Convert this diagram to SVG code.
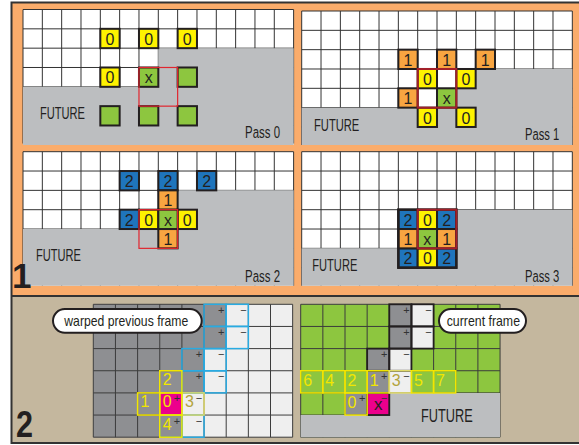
<svg xmlns="http://www.w3.org/2000/svg" xmlns:xlink="http://www.w3.org/1999/xlink" width="579" height="445" viewBox="0 0 579 445">
<style>
.fut{fill:#bcbec0}
.cy{fill:#fef200;stroke:#231f20;stroke-width:2}
.co{fill:#f8a541;stroke:#231f20;stroke-width:2}
.cb{fill:#1f75bc;stroke:#231f20;stroke-width:2}
.cg{fill:#8dc63f;stroke:#231f20;stroke-width:2}
.grid{fill:none;stroke:#333;stroke-width:1}
.bgrid{fill:none;stroke:#3c3c3c;stroke-width:1}
.t{font-family:"Liberation Sans",Arial,sans-serif;fill:#231f20}
.d{font-size:16px;text-anchor:middle}
.lbl{font-size:16.8px}
.redA{fill:none;stroke:#e0262f;stroke-width:1.2}
.redB{fill:none;stroke:#a3202a;stroke-width:2}
.blu{fill:none;stroke:#29abe2;stroke-width:1.5}
.yel{fill:none;stroke:#f2e600;stroke-width:1.5}
.yelp{fill:none;stroke:#e2dc6a;stroke-width:1.5}
.blk{fill:none;stroke:#231f20;stroke-width:1.8}
.dk{fill:#8e8f92}
.lt{fill:#efefef}
.mg{fill:#ec008c}
.yd{font-family:"Liberation Sans",Arial,sans-serif;font-size:16px;fill:#f2e600}
.od{font-family:"Liberation Sans",Arial,sans-serif;font-size:16px;fill:#b3a43c}
.sg{font-family:"Liberation Sans",Arial,sans-serif;font-size:11px;fill:#333;text-anchor:middle}
.pill{fill:#fff;stroke:#231f20;stroke-width:2}
.big{font-family:"Liberation Sans",Arial,sans-serif;font-weight:bold;fill:#231f20}
</style>
<defs>
<path id="tgrid" class="grid" d="M0 0H270.62M0 19.33H270.62M0 38.66H270.62M0 57.99H270.62M0 77.32H270.62M0 96.65H270.62M0 115.98H270.62M0 0V134M19.33 0V134M38.66 0V134M57.99 0V134M77.32 0V134M96.65 0V134M115.98 0V134M135.31 0V134M154.64 0V134M173.97 0V134M193.3 0V134M212.63 0V134M231.96 0V134M251.29 0V134M270.62 0V134"/>
<path id="bgrid" class="bgrid" d="M0 0H199.35M0 22.15H199.35M0 44.3H199.35M0 66.45H199.35M0 88.6H199.35M0 110.75H199.35M0 132.9H199.35M0 0V132.9M22.15 0V132.9M44.3 0V132.9M66.45 0V132.9M88.6 0V132.9M110.75 0V132.9M132.9 0V132.9M155.05 0V132.9M177.2 0V132.9M199.35 0V132.9"/>
</defs>

<rect width="579" height="445" fill="#fff"/>
<g id="frame">
<rect x="11" y="2.5" width="568" height="293.5" fill="#faac6b"/>
<rect x="11" y="296" width="568" height="147" fill="#c4b79e"/>
<path d="M11 2.5H579M11.5 1.5V444M11 296H579M11 443H579" fill="none" stroke="#333" stroke-width="2"/>
</g>

<g id="pass0" transform="translate(23,9.5)">
<rect width="270.62" height="135.5" fill="#fff"/>
<use xlink:href="#tgrid"/>
<polygon class="fut" points="135.31,38.66 270.62,38.66 270.62,135.5 0,135.5 0,77.32 115.98,77.32 115.98,57.99 135.31,57.99"/>
<rect class="cy" x="77.32" y="19.33" width="19.33" height="19.33"/><text class="t d" x="86.99" y="35.33">0</text>
<rect class="cy" x="115.98" y="19.33" width="19.33" height="19.33"/><text class="t d" x="125.65" y="35.33">0</text>
<rect class="cy" x="154.64" y="19.33" width="19.33" height="19.33"/><text class="t d" x="164.31" y="35.33">0</text>
<rect class="cy" x="77.32" y="57.99" width="19.33" height="19.33"/><text class="t d" x="86.99" y="73.99">0</text>
<rect class="cg" x="115.98" y="57.99" width="19.33" height="19.33"/><text class="t d" x="125.65" y="73.99">x</text>
<rect class="cg" x="154.64" y="57.99" width="19.33" height="19.33"/>
<rect class="cg" x="77.32" y="96.65" width="19.33" height="19.33"/>
<rect class="cg" x="115.98" y="96.65" width="19.33" height="19.33"/>
<rect class="cg" x="154.64" y="96.65" width="19.33" height="19.33"/>
<rect class="redA" x="115.98" y="57.99" width="38.66" height="38.66"/>
<text class="t lbl" x="17" y="109.8" textLength="45" lengthAdjust="spacingAndGlyphs">FUTURE</text>
<text class="t lbl" x="222" y="128.8" textLength="35" lengthAdjust="spacingAndGlyphs">Pass 0</text>
</g>

<g id="pass1" transform="translate(301.7,11)">
<rect width="270.62" height="134" fill="#fff"/>
<use xlink:href="#tgrid"/>
<polygon class="fut" points="173.97,57.99 270.62,57.99 270.62,134 0,134 0,96.65 154.64,96.65 154.64,77.32 173.97,77.32"/>
<rect class="co" x="96.65" y="38.66" width="19.33" height="19.33"/><text class="t d" x="106.32" y="54.66">1</text>
<rect class="co" x="135.31" y="38.66" width="19.33" height="19.33"/><text class="t d" x="144.98" y="54.66">1</text>
<rect class="co" x="173.97" y="38.66" width="19.33" height="19.33"/><text class="t d" x="183.64" y="54.66">1</text>
<rect class="co" x="96.65" y="77.32" width="19.33" height="19.33"/><text class="t d" x="106.32" y="93.32">1</text>
<rect class="cy" x="115.98" y="57.99" width="19.33" height="19.33"/><text class="t d" x="125.65" y="73.99">0</text>
<rect class="cy" x="154.64" y="57.99" width="19.33" height="19.33"/><text class="t d" x="164.31" y="73.99">0</text>
<rect class="cy" x="115.98" y="96.65" width="19.33" height="19.33"/><text class="t d" x="125.65" y="112.65">0</text>
<rect class="cy" x="154.64" y="96.65" width="19.33" height="19.33"/><text class="t d" x="164.31" y="112.65">0</text>
<rect class="cg" x="135.31" y="77.32" width="19.33" height="19.33"/><text class="t d" x="144.98" y="93.32">x</text>
<rect class="redB" x="115.98" y="57.99" width="38.66" height="38.66"/>
<text class="t lbl" x="12.3" y="119.7" textLength="45.3" lengthAdjust="spacingAndGlyphs">FUTURE</text>
<text class="t lbl" x="223.3" y="129" textLength="34.3" lengthAdjust="spacingAndGlyphs">Pass 1</text>
</g>

<g id="pass2" transform="translate(23,151.7)">
<rect width="270.62" height="134" fill="#fff"/>
<use xlink:href="#tgrid"/>
<polygon class="fut" points="135.31,38.66 270.62,38.66 270.62,134 0,134 0,77.32 96.65,77.32 96.65,57.99 135.31,57.99"/>
<rect class="cb" x="96.65" y="19.33" width="19.33" height="19.33"/><text class="t d" x="106.32" y="35.33">2</text>
<rect class="cb" x="135.31" y="19.33" width="19.33" height="19.33"/><text class="t d" x="144.98" y="35.33">2</text>
<rect class="cb" x="173.97" y="19.33" width="19.33" height="19.33"/><text class="t d" x="183.64" y="35.33">2</text>
<rect class="cb" x="96.65" y="57.99" width="19.33" height="19.33"/><text class="t d" x="106.32" y="73.99">2</text>
<rect class="co" x="135.31" y="38.66" width="19.33" height="19.33"/><text class="t d" x="144.98" y="54.66">1</text>
<rect class="co" x="135.31" y="77.32" width="19.33" height="19.33"/><text class="t d" x="144.98" y="93.32">1</text>
<rect class="cy" x="115.98" y="57.99" width="19.33" height="19.33"/><text class="t d" x="125.65" y="73.99">0</text>
<rect class="cy" x="154.64" y="57.99" width="19.33" height="19.33"/><text class="t d" x="164.31" y="73.99">0</text>
<rect class="cg" x="135.31" y="57.99" width="19.33" height="19.33"/><text class="t d" x="144.98" y="73.99">x</text>
<rect class="redA" x="115.98" y="57.99" width="38.66" height="38.66"/>
<text class="t lbl" x="13" y="109" textLength="45" lengthAdjust="spacingAndGlyphs">FUTURE</text>
<text class="t lbl" x="222" y="130" textLength="35" lengthAdjust="spacingAndGlyphs">Pass 2</text>
</g>

<g id="pass3" transform="translate(301.7,151.7)">
<rect width="270.62" height="134" fill="#fff"/>
<use xlink:href="#tgrid"/>
<polygon class="fut" points="96.65,57.99 270.62,57.99 270.62,134 0,134 0,96.65 96.65,96.65"/>
<rect class="cb" x="96.65" y="57.99" width="19.33" height="19.33"/><text class="t d" x="106.32" y="73.99">2</text>
<rect class="cb" x="135.31" y="57.99" width="19.33" height="19.33"/><text class="t d" x="144.98" y="73.99">2</text>
<rect class="cb" x="96.65" y="96.65" width="19.33" height="19.33"/><text class="t d" x="106.32" y="112.65">2</text>
<rect class="cb" x="135.31" y="96.65" width="19.33" height="19.33"/><text class="t d" x="144.98" y="112.65">2</text>
<rect class="cy" x="115.98" y="57.99" width="19.33" height="19.33"/><text class="t d" x="125.65" y="73.99">0</text>
<rect class="cy" x="115.98" y="96.65" width="19.33" height="19.33"/><text class="t d" x="125.65" y="112.65">0</text>
<rect class="co" x="96.65" y="77.32" width="19.33" height="19.33"/><text class="t d" x="106.32" y="93.32">1</text>
<rect class="co" x="135.31" y="77.32" width="19.33" height="19.33"/><text class="t d" x="144.98" y="93.32">1</text>
<rect class="cg" x="115.98" y="77.32" width="19.33" height="19.33"/><text class="t d" x="125.65" y="93.32">x</text>
<rect fill="none" stroke="#231f20" stroke-width="2.5" x="96.65" y="57.99" width="57.99" height="57.99"/>
<rect class="redB" x="115.98" y="57.99" width="38.66" height="38.66"/>
<text class="t lbl" x="10.6" y="119.3" textLength="45" lengthAdjust="spacingAndGlyphs">FUTURE</text>
<text class="t lbl" x="223.3" y="130" textLength="34.3" lengthAdjust="spacingAndGlyphs">Pass 3</text>
</g>

<g id="label1"><text class="big" x="12" y="288" font-size="35">1</text></g>
<g id="label2"><text class="big" x="16" y="437" font-size="36" textLength="17" lengthAdjust="spacingAndGlyphs">2</text></g>

<g id="prev" transform="translate(93.3,304.3)">
<rect width="199.35" height="132.9" class="lt"/>
<polygon class="dk" points="0,0 132.9,0 132.9,44.3 110.75,44.3 110.75,88.6 88.6,88.6 88.6,132.9 0,132.9"/>
<rect class="mg" x="66.45" y="88.6" width="22.15" height="22.15"/>
<use xlink:href="#bgrid"/>
<rect class="blu" x="110.75" y="0" width="22.15" height="22.15"/>
<rect class="blu" x="132.9" y="0" width="22.15" height="22.15"/>
<rect class="blu" x="110.75" y="22.15" width="22.15" height="22.15"/>
<rect class="blu" x="132.9" y="22.15" width="22.15" height="22.15"/>
<rect class="blu" x="88.6" y="44.3" width="22.15" height="22.15"/>
<rect class="blu" x="110.75" y="44.3" width="22.15" height="22.15"/>
<rect class="blu" x="88.6" y="66.45" width="22.15" height="22.15"/>
<rect class="blu" x="110.75" y="66.45" width="22.15" height="22.15"/>
<rect class="blu" x="66.45" y="110.75" width="22.15" height="22.15"/>
<rect class="blu" x="88.6" y="110.75" width="22.15" height="22.15"/>
<rect class="yelp" x="88.6" y="88.6" width="22.15" height="22.15"/>
<rect class="yel" x="66.45" y="66.45" width="22.15" height="22.15"/>
<rect class="yel" x="44.3" y="88.6" width="22.15" height="22.15"/>
<rect class="yel" x="66.45" y="88.6" width="22.15" height="22.15"/>
<rect class="yel" x="66.45" y="110.75" width="22.15" height="22.15"/>
<text class="yd" x="69.45" y="80.95">2</text>
<text class="yd" x="47.3" y="103.1">1</text>
<text class="yd" x="69.45" y="103.1">0</text>
<text class="od" x="91.6" y="103.1">3</text>
<text class="yd" x="69.45" y="125.25">4</text>
<text class="sg" x="127.9" y="9.5">+</text>
<text class="sg" x="127.9" y="31.65">+</text>
<text class="sg" x="105.75" y="53.8">+</text>
<text class="sg" x="105.75" y="75.95">+</text>
<text class="sg" x="83.6" y="98.1">+</text>
<text class="sg" x="83.6" y="120.25">+</text>
<text class="sg" x="150.05" y="9.5">−</text>
<text class="sg" x="150.05" y="31.65">−</text>
<text class="sg" x="127.9" y="53.8">−</text>
<text class="sg" x="127.9" y="75.95">−</text>
<text class="sg" x="105.75" y="98.1">−</text>
<text class="sg" x="105.75" y="120.25">−</text>
</g>

<g id="cur" transform="translate(300.7,304.3)">
<rect width="199.35" height="132.9" fill="#8dc63f"/>
<rect class="dk" x="88.6" y="0" width="22.15" height="22.15"/>
<rect class="dk" x="88.6" y="22.15" width="22.15" height="22.15"/>
<rect class="dk" x="66.45" y="44.3" width="22.15" height="22.15"/>
<rect class="dk" x="66.45" y="66.45" width="22.15" height="22.15"/>
<rect class="dk" x="44.3" y="88.6" width="22.15" height="22.15"/>
<rect class="lt" x="110.75" y="0" width="22.15" height="22.15"/>
<rect class="lt" x="110.75" y="22.15" width="22.15" height="22.15"/>
<rect class="lt" x="88.6" y="44.3" width="22.15" height="22.15"/>
<rect class="lt" x="88.6" y="66.45" width="22.15" height="22.15"/>
<rect class="mg" x="66.45" y="88.6" width="22.15" height="22.15"/>
<use xlink:href="#bgrid"/>
<polygon class="fut" points="88.6,88.6 199.35,88.6 199.35,132.9 0,132.9 0,110.75 88.6,110.75"/>
<rect class="blk" x="88.6" y="0" width="22.15" height="22.15"/>
<rect class="blk" x="110.75" y="0" width="22.15" height="22.15"/>
<rect class="blk" x="88.6" y="22.15" width="22.15" height="22.15"/>
<rect class="blk" x="110.75" y="22.15" width="22.15" height="22.15"/>
<rect class="blk" x="66.45" y="44.3" width="22.15" height="22.15"/>
<rect class="blk" x="88.6" y="44.3" width="22.15" height="22.15"/>
<rect class="blk" x="66.45" y="88.6" width="22.15" height="22.15"/>
<rect class="yel" x="0" y="66.45" width="22.15" height="22.15"/>
<rect class="yel" x="22.15" y="66.45" width="22.15" height="22.15"/>
<rect class="yel" x="44.3" y="66.45" width="22.15" height="22.15"/>
<rect class="yel" x="66.45" y="66.45" width="22.15" height="22.15"/>
<rect class="yelp" x="88.6" y="66.45" width="22.15" height="22.15"/>
<rect class="yel" x="110.75" y="66.45" width="22.15" height="22.15"/>
<rect class="yel" x="132.9" y="66.45" width="22.15" height="22.15"/>
<rect class="yel" x="44.3" y="88.6" width="22.15" height="22.15"/>
<text class="yd" x="2.5" y="81.95">6</text>
<text class="yd" x="24.65" y="81.95">4</text>
<text class="yd" x="46.8" y="81.95">2</text>
<text class="yd" x="68.95" y="81.95">1</text>
<text class="od" x="91.1" y="81.95">3</text>
<text class="yd" x="113.25" y="81.95">5</text>
<text class="yd" x="135.4" y="81.95">7</text>
<text class="yd" x="46.8" y="104.1">0</text>
<text class="t" x="77.5" y="105.6" font-size="17" text-anchor="middle">x</text>
<text class="sg" x="105.75" y="9.5">+</text>
<text class="sg" x="105.75" y="31.65">+</text>
<text class="sg" x="83.6" y="53.8">+</text>
<text class="sg" x="83.6" y="75.95">+</text>
<text class="sg" x="61.45" y="98.1">+</text>
<text class="sg" x="127.9" y="9.5">−</text>
<text class="sg" x="127.9" y="31.65">−</text>
<text class="sg" x="105.75" y="53.8">−</text>
<text class="sg" x="105.75" y="75.95">−</text>
<text class="sg" x="83.6" y="98.1">−</text>
<text class="t" x="120.3" y="118" font-size="18" textLength="51.7" lengthAdjust="spacingAndGlyphs">FUTURE</text>
</g>

<g id="pill-prev">
<rect class="pill" x="53" y="309" width="148.7" height="23.7" rx="11.85"/>
<text class="t" x="64.3" y="325.7" font-size="15" textLength="124" lengthAdjust="spacingAndGlyphs">warped previous frame</text>
</g>
<g id="pill-cur">
<rect class="pill" x="439" y="309" width="87" height="23.7" rx="11.85"/>
<text class="t" x="446.7" y="325.7" font-size="15" textLength="73.3" lengthAdjust="spacingAndGlyphs">current frame</text>
</g>
</svg>
